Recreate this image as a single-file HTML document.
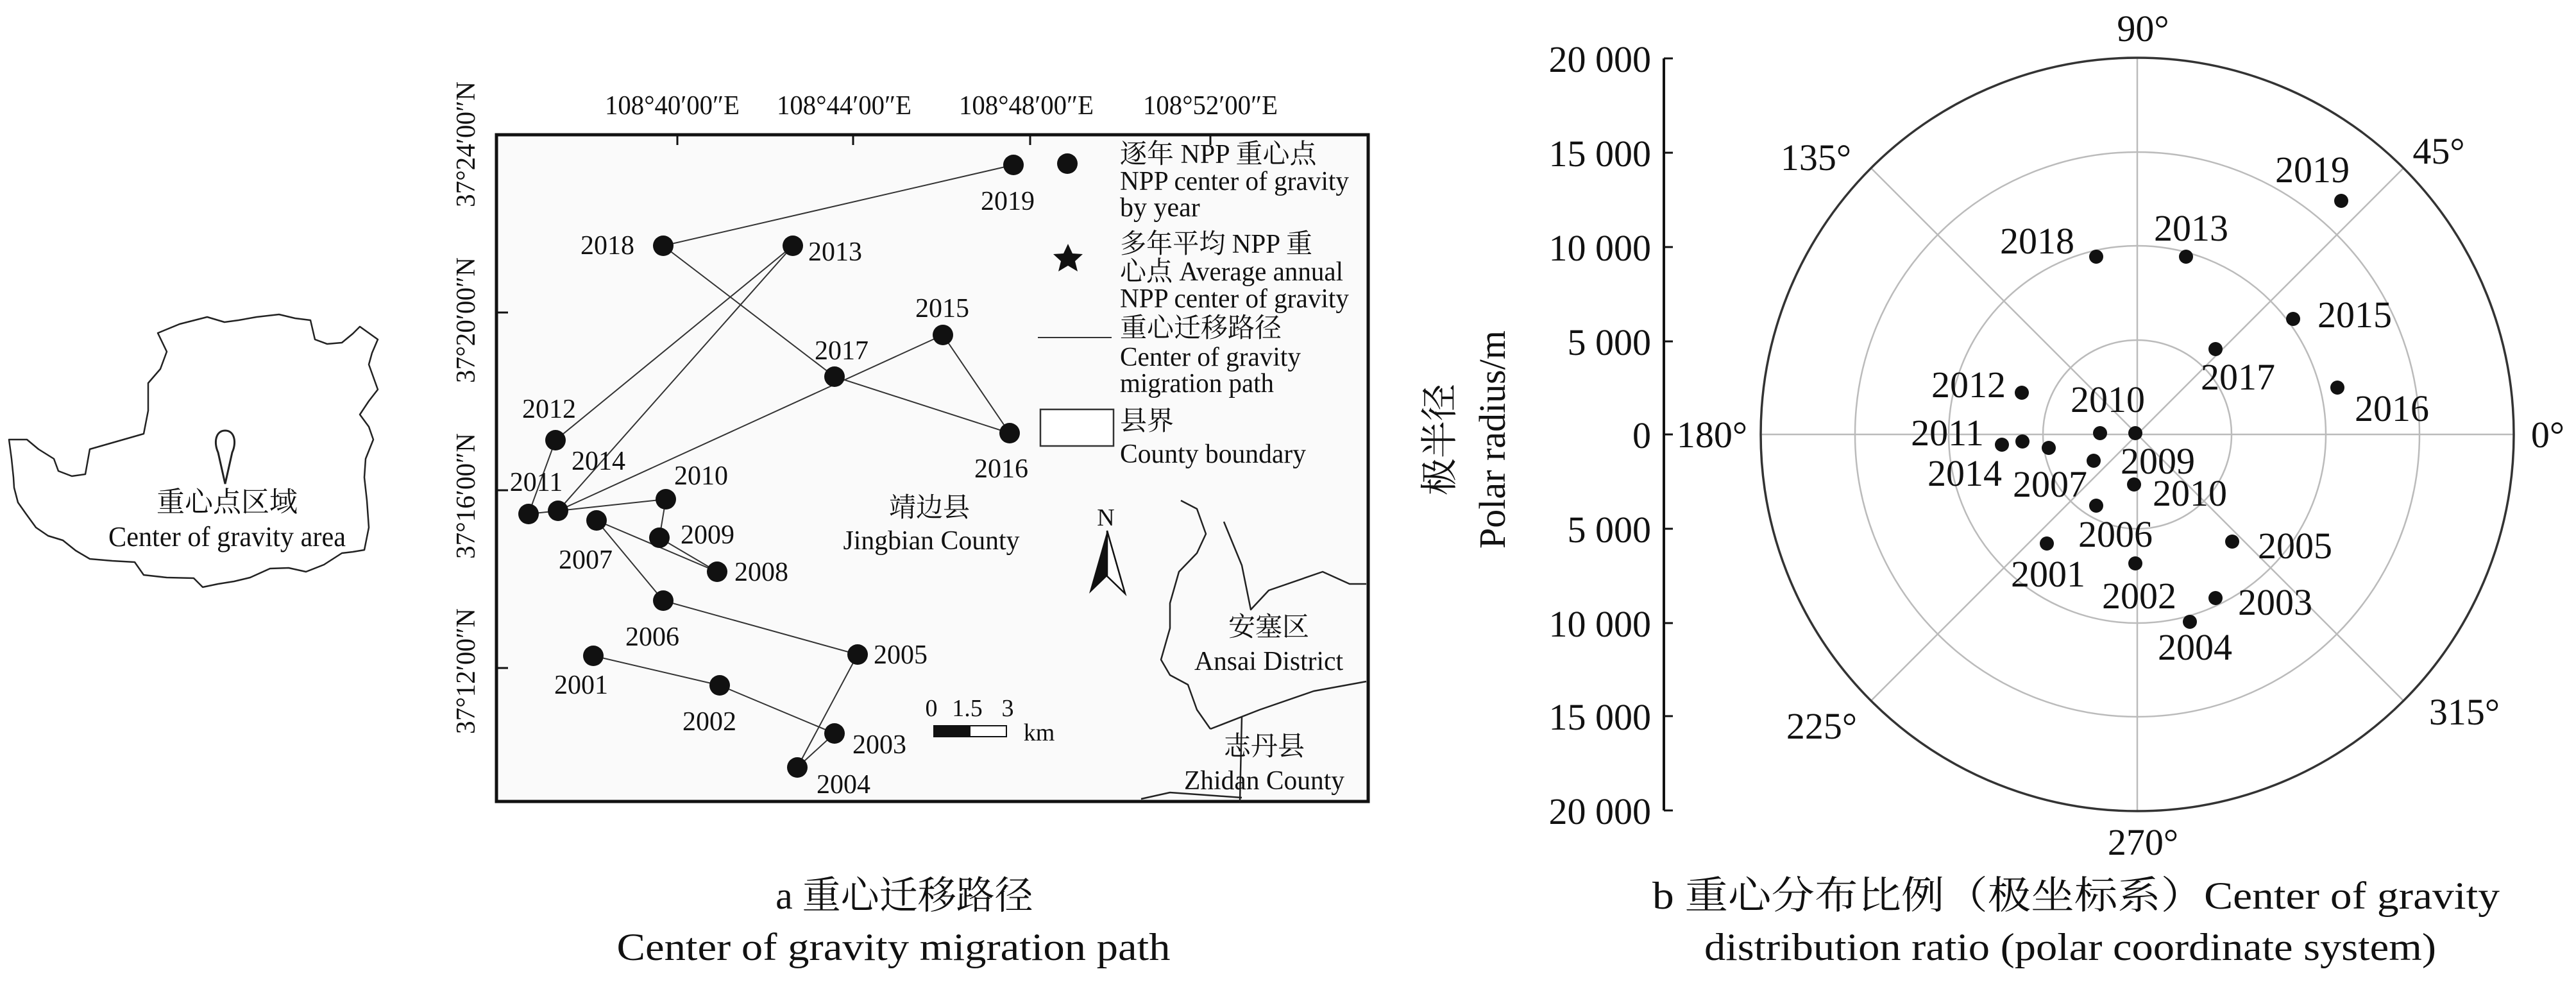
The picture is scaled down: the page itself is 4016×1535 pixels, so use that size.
<!DOCTYPE html>
<html><head><meta charset="utf-8"><style>
html,body{margin:0;padding:0;background:#fff}
svg{display:block}
text{font-family:"Liberation Serif","Noto Serif CJK SC",serif;fill:#111}
</style></head><body>
<svg xmlns="http://www.w3.org/2000/svg" width="4016" height="1535" viewBox="0 0 4016 1535">
<rect width="4016" height="1535" fill="#fff"/>
<!-- left region map -->
<polygon points="14,685 42,685 60,700 84,715 91,734 112,742 133,739 140,700 175,690 224,676 231,640 231,597 250,575 260,548 246,519 280,505 323,494 350,502 372,499 400,494 435,490 460,496 484,499 491,529 510,536 533,534 550,520 561,509 589,529 580,550 575,568 589,607 575,625 561,646 575,665 582,685 570,715 568,744 572,780 575,822 568,857 550,860 533,862 505,880 477,891 450,885 421,886 390,900 365,906 340,910 316,915 302,901 260,900 224,896 210,876 175,874 140,871 118,858 98,842 75,835 56,822 40,800 28,783 22,760 21,744 18,715" fill="#fff" stroke="#222" stroke-width="2.5" stroke-linejoin="round"/>
<path d="M351,671 C336,671 333,690 340,705 L351,754 L362,705 C369,690 366,671 351,671 Z" fill="#fff" stroke="#222" stroke-width="3"/>
<text x="354" y="797" font-size="44" text-anchor="middle">重心点区域</text>
<text x="354" y="851" font-size="44" text-anchor="middle" textLength="370" lengthAdjust="spacingAndGlyphs">Center of gravity area</text>

<!-- map frame -->
<rect x="774" y="210" width="1359" height="1039" fill="#fafafa" stroke="#111" stroke-width="5"/>
<g stroke="#111" stroke-width="3">
<line x1="1056" y1="210" x2="1056" y2="226"/><line x1="1330" y1="210" x2="1330" y2="226"/><line x1="1606" y1="210" x2="1606" y2="226"/><line x1="1887" y1="210" x2="1887" y2="226"/>
<line x1="774" y1="487" x2="792" y2="487"/><line x1="774" y1="764" x2="792" y2="764"/><line x1="774" y1="1041" x2="792" y2="1041"/>
</g>
<g font-size="42" text-anchor="middle">
<text x="1048" y="178" textLength="210" lengthAdjust="spacingAndGlyphs">108°40′00″E</text>
<text x="1316" y="178" textLength="210" lengthAdjust="spacingAndGlyphs">108°44′00″E</text>
<text x="1600" y="178" textLength="210" lengthAdjust="spacingAndGlyphs">108°48′00″E</text>
<text x="1887" y="178" textLength="210" lengthAdjust="spacingAndGlyphs">108°52′00″E</text>
<text transform="translate(740,225) rotate(-90)" textLength="196" lengthAdjust="spacingAndGlyphs">37°24′00″N</text>
<text transform="translate(740,499) rotate(-90)" textLength="196" lengthAdjust="spacingAndGlyphs">37°20′00″N</text>
<text transform="translate(740,773) rotate(-90)" textLength="196" lengthAdjust="spacingAndGlyphs">37°16′00″N</text>
<text transform="translate(740,1046) rotate(-90)" textLength="196" lengthAdjust="spacingAndGlyphs">37°12′00″N</text>
</g>
<!-- county boundaries -->
<g fill="none" stroke="#222" stroke-width="2.5" stroke-linejoin="round">
<polyline points="1841,780 1866,793 1880,832 1866,862 1838,891 1824,940 1824,979 1810,1028 1824,1052 1852,1067 1866,1106 1887,1136"/>
<polyline points="1908,813 1936,881 1950,950 1978,920 2062,891 2104,910 2130,910"/>
<polyline points="1887,1136 1964,1106 2048,1077 2130,1062"/>
<polyline points="1936,1116 1933,1249"/>
<polyline points="1779,1245 1824,1235 1936,1243"/>
</g>
<!-- path -->
<polyline fill="none" stroke="#333" stroke-width="2" points="925,1022 1122,1068 1301,1143 1243,1196 1337,1020 1034,936 930,811 1118,891 1028,838 1038,778 824,801 866,686 1236,383 870,796 1470,522 1574,675 1301,587 1034,383 1580,257"/>
<g fill="#111">
<circle cx="1580" cy="257" r="16"/><circle cx="1664" cy="255" r="16"/>
<circle cx="1034" cy="383" r="16"/><circle cx="1236" cy="383" r="16"/>
<circle cx="1470" cy="522" r="16"/><circle cx="1301" cy="587" r="16"/><circle cx="1574" cy="675" r="16"/>
<circle cx="866" cy="686" r="16"/><circle cx="824" cy="801" r="16"/><circle cx="870" cy="796" r="16"/>
<circle cx="1038" cy="778" r="16"/><circle cx="930" cy="811" r="16"/><circle cx="1028" cy="838" r="16"/>
<circle cx="1118" cy="891" r="16"/><circle cx="1034" cy="936" r="16"/><circle cx="1337" cy="1020" r="16"/>
<circle cx="925" cy="1022" r="16"/><circle cx="1122" cy="1068" r="16"/><circle cx="1301" cy="1143" r="16"/><circle cx="1243" cy="1196" r="16"/>
</g>
<g font-size="42" text-anchor="middle">
<text x="1571" y="327">2019</text><text x="947" y="396">2018</text><text x="1302" y="406">2013</text>
<text x="1469" y="494">2015</text><text x="1312" y="560">2017</text><text x="1561" y="744">2016</text>
<text x="856" y="651">2012</text><text x="933" y="732">2014</text><text x="836" y="765">2011</text>
<text x="1093" y="755">2010</text><text x="1103" y="847">2009</text><text x="913" y="886">2007</text>
<text x="1187" y="905">2008</text><text x="1017" y="1006">2006</text><text x="1404" y="1034">2005</text>
<text x="906" y="1081">2001</text><text x="1106" y="1138">2002</text><text x="1371" y="1174">2003</text><text x="1315" y="1236">2004</text>
</g>
<!-- legend -->
<g font-size="42">
<text x="1746" y="254">逐年 NPP 重心点</text>
<text x="1746" y="296" textLength="357" lengthAdjust="spacingAndGlyphs">NPP center of gravity</text>
<text x="1746" y="337">by year</text>
<text x="1746" y="394" textLength="300" lengthAdjust="spacingAndGlyphs">多年平均 NPP 重</text>
<text x="1746" y="437" textLength="348" lengthAdjust="spacingAndGlyphs">心点 Average annual</text>
<text x="1746" y="479" textLength="357" lengthAdjust="spacingAndGlyphs">NPP center of gravity</text>
<text x="1746" y="525">重心迁移路径</text>
<text x="1746" y="570" textLength="282" lengthAdjust="spacingAndGlyphs">Center of gravity</text>
<text x="1746" y="611" textLength="240" lengthAdjust="spacingAndGlyphs">migration path</text>
<text x="1746" y="670">县界</text>
<text x="1746" y="721" textLength="290" lengthAdjust="spacingAndGlyphs">County boundary</text>
</g>
<polygon fill="#111" points="1665,380 1672,395 1688,396 1676,407 1680,423 1665,414 1650,423 1654,407 1642,396 1658,395"/>
<line x1="1618" y1="526" x2="1733" y2="526" stroke="#333" stroke-width="2"/>
<rect x="1622" y="638" width="114" height="57" fill="#fff" stroke="#333" stroke-width="2.5"/>
<g font-size="42" text-anchor="middle">
<text x="1449" y="805">靖边县</text>
<text x="1452" y="856" textLength="275" lengthAdjust="spacingAndGlyphs">Jingbian County</text>
<text x="1978" y="991">安塞区</text>
<text x="1978" y="1044" textLength="232" lengthAdjust="spacingAndGlyphs">Ansai District</text>
<text x="1971" y="1177">志丹县</text>
<text x="1971" y="1230" textLength="250" lengthAdjust="spacingAndGlyphs">Zhidan County</text>
<text x="1724" y="819" font-size="38">N</text>
</g>
<polygon points="1726,827 1698,925 1726,898" fill="#111"/>
<polygon points="1726,827 1754,925 1726,898" fill="#fff" stroke="#111" stroke-width="2.5"/>
<!-- scale bar -->
<g font-size="38" text-anchor="middle">
<text x="1452" y="1116">0</text><text x="1508" y="1116">1.5</text><text x="1571" y="1116">3</text>
<text x="1620" y="1154">km</text>
</g>
<rect x="1456" y="1131" width="56" height="17" fill="#111" stroke="#111" stroke-width="2"/>
<rect x="1512" y="1131" width="57" height="17" fill="#fff" stroke="#111" stroke-width="2"/>
<!-- caption a -->
<text x="1410" y="1416" font-size="60" text-anchor="middle">a 重心迁移路径</text>
<text x="1393" y="1496" font-size="60" text-anchor="middle" textLength="863" lengthAdjust="spacingAndGlyphs">Center of gravity migration path</text>

<!-- polar chart -->
<line x1="2594" y1="91" x2="2594" y2="1263" stroke="#111" stroke-width="4"/>
<g stroke="#111" stroke-width="3">
<line x1="2594" y1="91" x2="2608" y2="91"/><line x1="2594" y1="238" x2="2608" y2="238"/><line x1="2594" y1="385" x2="2608" y2="385"/><line x1="2594" y1="532" x2="2608" y2="532"/><line x1="2594" y1="677" x2="2608" y2="677"/><line x1="2594" y1="824" x2="2608" y2="824"/><line x1="2594" y1="971" x2="2608" y2="971"/><line x1="2594" y1="1116" x2="2608" y2="1116"/><line x1="2594" y1="1263" x2="2608" y2="1263"/>
</g>
<g font-size="58" text-anchor="end">
<text x="2574" y="112">20 000</text><text x="2574" y="259">15 000</text><text x="2574" y="406">10 000</text><text x="2574" y="553">5 000</text><text x="2574" y="698">0</text><text x="2574" y="845">5 000</text><text x="2574" y="992">10 000</text><text x="2574" y="1137">15 000</text><text x="2574" y="1284">20 000</text>
</g>
<text transform="translate(2264,685) rotate(-90)" font-size="58" text-anchor="middle">极半径</text>
<text transform="translate(2346,685) rotate(-90)" font-size="58" text-anchor="middle" textLength="340" lengthAdjust="spacingAndGlyphs">Polar radius/m</text>
<g fill="none" stroke="#bbb" stroke-width="2.5">
<circle cx="3332" cy="677" r="147"/><circle cx="3332" cy="677" r="294"/><circle cx="3332" cy="677" r="440"/>
<line x1="2745" y1="677" x2="3919" y2="677"/><line x1="3332" y1="90" x2="3332" y2="1264"/>
<line x1="2917" y1="262" x2="3747" y2="1092"/><line x1="2917" y1="1092" x2="3747" y2="262"/>
</g>
<circle cx="3332" cy="677" r="587" fill="none" stroke="#333" stroke-width="3.5"/>
<g font-size="58" text-anchor="middle">
<text x="3341" y="64">90°</text><text x="3802" y="255">45°</text><text x="3972" y="697">0°</text>
<text x="3842" y="1129">315°</text><text x="3341" y="1332">270°</text><text x="2840" y="1151">225°</text>
<text x="2669" y="697">180°</text><text x="2831" y="265">135°</text>
</g>
<g fill="#111">
<circle cx="3650" cy="313" r="11"/><circle cx="3268" cy="400" r="11"/><circle cx="3408" cy="400" r="11"/>
<circle cx="3575" cy="497" r="11"/><circle cx="3454" cy="544" r="11"/><circle cx="3644" cy="604" r="11"/>
<circle cx="3152" cy="612" r="11"/><circle cx="3274" cy="675" r="11"/><circle cx="3329" cy="675" r="11"/>
<circle cx="3121" cy="693" r="11"/><circle cx="3153" cy="688" r="11"/><circle cx="3194" cy="698" r="11"/>
<circle cx="3264" cy="718" r="11"/><circle cx="3327" cy="755" r="11"/><circle cx="3268" cy="788" r="11"/>
<circle cx="3480" cy="844" r="11"/><circle cx="3191" cy="847" r="11"/><circle cx="3329" cy="878" r="11"/>
<circle cx="3454" cy="932" r="11"/><circle cx="3414" cy="969" r="11"/>
</g>
<g font-size="58" text-anchor="middle">
<text x="3605" y="284">2019</text><text x="3176" y="395">2018</text><text x="3416" y="375">2013</text>
<text x="3671" y="510">2015</text><text x="3489" y="607">2017</text><text x="3729" y="656">2016</text>
<text x="3069" y="619">2012</text><text x="3286" y="642">2010</text><text x="3036" y="694">2011</text>
<text x="3063" y="757">2014</text><text x="3196" y="774">2007</text><text x="3364" y="738">2009</text>
<text x="3414" y="788">2010</text><text x="3298" y="852">2006</text><text x="3578" y="870">2005</text>
<text x="3193" y="914">2001</text><text x="3335" y="948">2002</text><text x="3547" y="958">2003</text><text x="3422" y="1028">2004</text>
</g>
<text x="2576" y="1416" font-size="60" textLength="1321" lengthAdjust="spacingAndGlyphs">b 重心分布比例（极坐标系）Center of  gravity</text>
<text x="2657" y="1496" font-size="60" textLength="1141" lengthAdjust="spacingAndGlyphs">distribution ratio (polar coordinate system)</text>
</svg>
</body></html>
